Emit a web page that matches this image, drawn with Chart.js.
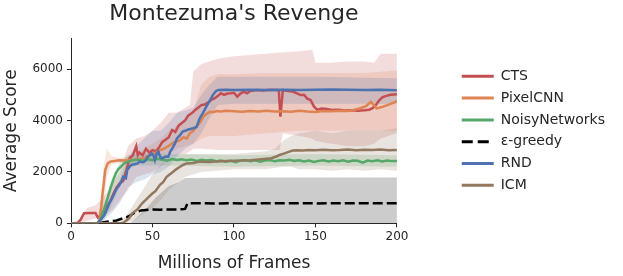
<!DOCTYPE html>
<html>
<head>
<meta charset="utf-8">
<script src="https://cdn.jsdelivr.net/npm/chart.js@4.4.1/dist/chart.umd.min.js"></script>
<style>
  html, body { margin: 0; padding: 0; background: #fff; }
  #wrap { width: 623px; height: 276px; }
</style>
</head>
<body>
<div id="wrap"><canvas id="grafico" width="623" height="276"></canvas></div>
<script>
// valores: [milhões de frames, score]
const cts = [[0,0],[4,0],[6,150],[8,390],[12,400],[15,400],[16.5,220],[18,300],[20,450],[22,650],
  [24,850],[26,1150],[28,1400],[30,1560],[32,1650],[34,2070],[36,2530],[38,2650],[40,3000],[41,2650],
  [42,2750],[44,2650],[46,2900],[48,2750],[50,2850],[52,2800],[54,2950],[56,3170],[58,3250],[60,3350],
  [62,3630],[64,3550],[66,3800],[68,3900],[70,4000],[72,4200],[74,4280],[76,4400],[78,4500],[80,4600],
  [82,4620],[84,4700],[86,4800],[88,4860],[90,4950],[92,5060],[94,5000],[96,5050],[98,5060],[100,5080],
  [102,4930],[104,5050],[106,5120],[108,5060],[110,5150],[114,5190],[118,5170],[122,5200],[126,5190],[127.5,5180],
  [128.5,4150],[130,5190],[133,5150],[136,5130],[139,5050],[141,4990],[143,5000],[145,4850],[147,4800],[149,4550],
  [151,4420],[154,4470],[157,4450],[160,4410],[164,4420],[168,4390],[172,4400],[176,4380],[180,4400],[183,4420],
  [185,4480],[187,4600],[189,4780],[191,4900],[193,4950],[196,5000],[200,5020]];

const pixelcnn = [[0,0],[16,0],[17.4,100],[18.5,600],[19.4,1160],[20.2,1600],[21,2070],[22.5,2330],[24,2400],[27.5,2430],
  [30,2450],[33,2440],[36,2460],[39,2470],[42,2500],[45,2550],[48,2650],[50,2700],[52,2750],[54.6,2850],
  [57,2900],[60.7,3050],[63,3150],[66.9,3240],[69,3350],[71,3300],[73,3500],[75,3600],[77,3760],[79,3900],
  [81.2,4150],[83,4250],[85.3,4340],[87,4320],[89.4,4370],[92,4350],[95,4380],[100,4360],[105,4340],[110,4370],
  [115,4350],[120,4380],[125,4350],[130,4360],[135,4340],[140,4380],[145,4350],[150,4330],[155,4370],[160,4360],
  [165,4380],[170,4370],[173,4400],[177,4470],[181,4560],[184,4730],[187.5,4470],[191.6,4540],[195.7,4640],[198,4700],
  [200,4760]];

const noisy = [[0,0],[16,0],[17.4,60],[19.5,400],[21.5,780],[23,1100],[24.5,1420],[26,1700],[27.5,1950],[29,2100],
  [30.5,2200],[32.5,2330],[35.6,2420],[38,2450],[41,2480],[44,2430],[47,2500],[50,2460],[53,2510],[56,2470],
  [59,2440],[62,2500],[65,2460],[68,2490],[71,2450],[74,2480],[77,2430],[80,2470],[83,2440],[86,2460],
  [89,2420],[92,2440],[95,2400],[98,2430],[101,2380],[104,2440],[107,2460],[110,2420],[113,2450],[116,2400],
  [119,2440],[122,2460],[125,2420],[128,2450],[131,2440],[134,2470],[137,2430],[140,2450],[143,2410],[146,2440],
  [149,2390],[152,2430],[155,2450],[158,2410],[161,2440],[164,2420],[167,2450],[170,2400],[173,2440],[176,2430],
  [179,2360],[182,2440],[185,2420],[188,2450],[191,2410],[194,2440],[197,2420],[200,2420]];

const egreedy = [[0,0],[18,0],[19.4,30],[22,60],[25.6,90],[28,110],[31.7,190],[34,230],[36.8,320],[39,420],
  [40.9,450],[43,500],[46,520],[50,540],[55,530],[60,540],[65,540],[68,550],[70,560],[71.5,780],
  [80,780],[90,770],[100,780],[110,770],[120,780],[130,780],[140,780],[150,775],[160,780],[170,780],
  [180,780],[190,780],[200,780]];

const rnd = [[0,0],[16,0],[18,120],[20.5,320],[22,550],[23.5,780],[25,950],[26.6,1160],[28,1350],[29.7,1490],
  [31,1650],[32,1810],[33.7,1750],[34.5,2070],[36,2200],[37,2270],[39,2300],[41,2330],[42,2400],[44,2380],
  [45,2400],[46,2460],[47,2590],[48.5,2650],[49.5,2720],[50.5,2650],[51.5,2460],[52.5,2700],[53.6,2790],[54.6,2600],
  [55.6,2530],[57,2560],[58.5,2600],[59.7,2590],[61,2800],[62.5,2950],[63.8,3110],[65,3300],[66.9,3430],[68.5,3570],
  [70,3600],[72,3650],[75,3700],[77,3750],[79,4090],[81,4300],[83,4540],[85,4750],[87,4990],[89,5150],
  [90.5,5190],[95,5200],[100,5190],[110,5200],[120,5190],[130,5200],[140,5190],[150,5200],[160,5210],[170,5200],
  [180,5190],[190,5200],[200,5180]];

const icm = [[0,0],[31,0],[33,60],[35.6,190],[37.6,390],[40.7,540],[43.7,780],[46.8,970],[49.9,1160],[51.8,1250],
  [54.6,1500],[56.5,1600],[58.7,1810],[60.5,1900],[62.7,2010],[64.5,2100],[66.9,2200],[69,2280],[71,2330],[75,2350],
  [79,2400],[85,2390],[90,2410],[95,2420],[100,2430],[105,2440],[110,2450],[115,2480],[120,2510],[123,2530],
  [126,2600],[128,2660],[131,2720],[134,2790],[136,2830],[138.5,2840],[142,2830],[146,2850],[150,2840],[155,2860],
  [160,2840],[165,2850],[170,2870],[175,2840],[180,2860],[185,2850],[190,2870],[195,2840],[200,2850]];

// faixas de desvio: [x, inferior, superior]
const ctsBand = [[0,0,0],[5,0,150],[10,100,600],[15,200,700],[20,300,1000],[25,500,1500],[30,900,2000],[35,1300,3000],
  [40,1800,3300],[45,1900,3400],[50,2000,3600],[55,2200,3900],[60,2500,4300],[65,2600,4300],[70,2700,4500],[73,2800,4600],
  [75,2900,5900],[80,2900,6200],[90,2850,6400],[100,2850,6500],[110,2850,6550],[120,2850,6600],[128,2850,6650],[130,3500,6650],
  [140,3400,6700],[148,3300,6750],[150,3200,6250],[160,3100,6250],[170,3000,6300],[180,3000,6300],[186,3100,6250],[190,3300,6600],
  [200,3500,6600]];
const pixelcnnBand = [[0,0,0],[16,0,0],[18,0,800],[20,400,2200],[22,1800,2900],[25,2300,2600],[30,2350,2550],[35,2350,2600],
  [40,2350,2700],[45,2400,2900],[50,2400,3100],[55,2500,3300],[60,2700,3600],[65,2900,3800],[70,3000,4000],[75,3100,4300],
  [78,3200,5000],[80,3300,5400],[85,3400,5700],[90,3400,5800],[100,3400,5800],[120,3500,5850],[140,3600,5850],[160,3600,5850],
  [180,3600,5850],[200,3600,5950]];
const noisyBand = [[0,0,0],[16,0,0],[20,100,700],[25,700,1700],[30,1500,2400],[35,2150,2650],[40,2250,2700],[60,2250,2700],
  [100,2200,2650],[150,2250,2700],[200,2200,2650]];
const egreedyBand = [[0,0,0],[36,0,0],[45,0,500],[52,0,1000],[60,0,1450],[66,0,1600],[70,0,1760],[100,0,1780],
  [150,0,1780],[200,0,1780]];
const rndBand = [[0,0,0],[17,0,0],[20,100,400],[25,400,1100],[30,800,1700],[35,1400,2600],[40,1600,3000],[45,1700,3300],
  [50,1900,3600],[55,2000,3600],[60,2200,3900],[65,2600,4300],[70,2900,4400],[75,3100,4500],[80,3500,5000],[85,4100,5400],
  [90,4600,5700],[100,4650,5700],[150,4650,5700],[200,4650,5650]];
const icmBand = [[0,0,0],[30,0,0],[35,0,400],[40,200,900],[45,400,1400],[50,600,1900],[55,900,2300],[60,1300,2500],
  [70,1800,2700],[80,2000,2700],[100,2100,2700],[120,2100,2800],[125,2150,2900],[130,2200,3200],[135,2200,3400],[140,2100,3500],
  [150,2100,3600],[160,2050,3500],[170,2100,3600],[180,2050,3600],[190,2100,3600],[200,2050,3700]];

const xTicks = [0, 50, 100, 150, 200];
const yTicks = [0, 2000, 4000, 6000];

const series = [
  {label:'CTS', data:cts, band:ctsBand, rgb:'196,78,82'},
  {label:'PixelCNN', data:pixelcnn, band:pixelcnnBand, rgb:'221,132,82'},
  {label:'NoisyNetworks', data:noisy, band:noisyBand, rgb:'85,168,104'},
  {label:'ε-greedy', data:egreedy, band:egreedyBand, rgb:'0,0,0', dash:[10,4]},
  {label:'RND', data:rnd, band:rndBand, rgb:'76,114,176'},
  {label:'ICM', data:icm, band:icmBand, rgb:'147,120,96'}
];

const FONT = 'DejaVu Sans';
const INK = '#262626';

const datasets = [];
series.forEach((s, i) => {
  datasets.push({
    label: s.label,
    data: s.data.map(p => ({x:p[0], y:p[1]})),
    borderColor: 'rgb(' + s.rgb + ')',
    borderWidth: 2.5,
    borderDash: s.dash || [],
    pointRadius: 0, tension: 0, fill: false,
    order: 6 - i
  });
});
series.forEach((s, i) => {
  datasets.push({
    data: s.band.map(p => ({x:p[0], y:p[2]})),
    borderWidth: 0, pointRadius: 0, tension: 0,
    backgroundColor: 'rgba(' + s.rgb + ',0.2)',
    fill: '+1', order: 40 - 2*i
  });
  datasets.push({
    data: s.band.map(p => ({x:p[0], y:p[1]})),
    borderWidth: 0, pointRadius: 0, tension: 0, fill: false,
    order: 39 - 2*i
  });
});

const ctx = document.getElementById('grafico').getContext('2d');
const grafico = new Chart(ctx, {
  type: 'line',
  data: {datasets},
  options: {
    responsive: false, animation: false,
    layout: {padding: {right: 8}},
    plugins: {
      tooltip: {enabled: false},
      title: {display: true, text: "Montezuma's Revenge", fullSize: false, color: INK,
        font: {family: FONT, size: 22, weight: 'normal'}, padding: {top: 1, bottom: 10.9}},
      legend: {
        position: 'right', fullSize: false, align: 'center', maxWidth: 240,
        labels: {
          usePointStyle: true, pointStyle: 'line', pointStyleWidth: 32, padding: 7.8,
          color: INK, font: {family: FONT, size: 14},
          generateLabels: () => series.map((s, i) => ({
            text: s.label, strokeStyle: 'rgb(' + s.rgb + ')', fillStyle: 'rgb(' + s.rgb + ')',
            lineWidth: 3, lineDash: s.dash ? [11, 5] : [], pointStyle: 'line',
            hidden: false, datasetIndex: i, fontColor: INK
          }))
        }
      }
    },
    scales: {
      x: {
        type: 'linear', min: 0, max: 200,
        afterBuildTicks: sc => { sc.ticks = xTicks.map(v => ({value: v})); },
        afterFit: sc => { sc.height = 52.7; },
        ticks: {color: INK, padding: 2.2, font: {family: FONT, size: 12}, callback: v => String(v)},
        grid: {drawOnChartArea: false, tickLength: 4, color: INK},
        border: {color: INK, width: 1},
        title: {display: true, text: 'Millions of Frames', color: INK,
          font: {family: FONT, size: 17}, padding: {top: 0, bottom: 2.1}}
      },
      y: {
        min: 0, max: 7200,
        afterBuildTicks: sc => { sc.ticks = yTicks.map(v => ({value: v})); },
        afterFit: sc => { sc.width = 71; },
        ticks: {color: INK, padding: 4, font: {family: FONT, size: 12}, callback: v => String(v)},
        grid: {drawOnChartArea: false, tickLength: 4, color: INK},
        border: {color: INK, width: 1},
        title: {display: true, text: 'Average Score', color: INK,
          font: {family: FONT, size: 17}, padding: {top: 1.5, bottom: 0}}
      },
      // espaço vazio entre o gráfico e a legenda
      gap: {
        type: 'linear', position: 'right', display: true,
        ticks: {display: false}, grid: {display: false}, border: {display: false},
        afterFit: sc => { sc.width = 57; }
      }
    }
  }
});
</script>
</body>
</html>
